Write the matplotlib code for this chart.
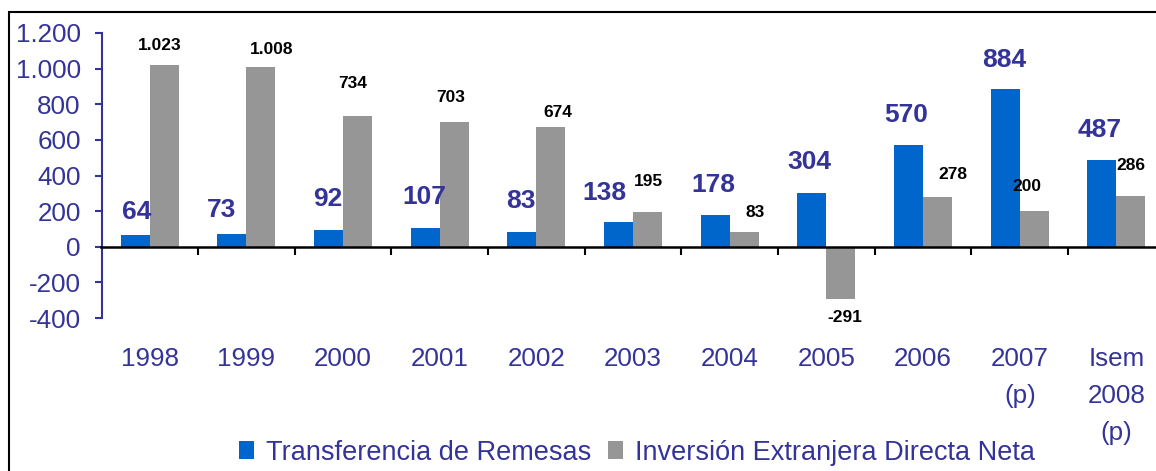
import matplotlib
matplotlib.use("Agg")
import matplotlib.pyplot as plt
import numpy as np
from matplotlib.patches import Rectangle

plt.rcParams['font.family'] = ['Liberation Sans', 'DejaVu Sans']

# datos (millones US$)
categorias = ['1998', '1999', '2000', '2001', '2002', '2003', '2004', '2005',
              '2006', '2007\n(p)', 'Isem\n2008\n(p)']
remesas = [64, 73, 92, 107, 83, 138, 178, 304, 570, 884, 487]
ied = [1023, 1008, 734, 703, 674, 195, 83, -291, 278, 200, 286]
etiq_remesas = ['64', '73', '92', '107', '83', '138', '178', '304', '570', '884', '487']
etiq_ied = ['1.023', '1.008', '734', '703', '674', '195', '83', '-291', '278', '200', '286']
yticks = [-400, -200, 0, 200, 400, 600, 800, 1000, 1200]
ytick_labels = ['-400', '-200', '0', '200', '400', '600', '800', '1.000', '1.200']
serie_nombres = ['Transferencia de Remesas', 'Inversión Extranjera Directa Neta']

# desplazamiento de etiquetas (px): dx, dy (linea base respecto al extremo de la barra)
off_rem = [(1, 16), (-10, 17), (-1, 24), (-1, 24), (-1, 24), (-14, 22), (-2, 23),
           (-3, 24), (-2, 23), (-1, 22), (-2, 23)]
off_ied = [(-5, 15), (11, 13), (-5, 28), (-4, 20), (7, 10), (1, 26), (11, 15),
           (4, -23), (15, 18), (-7, 20), (0, 26)]

AZUL = '#0066CC'
GRIS = '#969696'
TEXTO = '#333399'

fig = plt.figure(figsize=(11.56, 4.71), dpi=100)
W, H = 1156, 471
ax = fig.add_axes([101.5 / W, (H - 318) / H, 1063.3 / W, 285 / H])

x = np.arange(len(categorias))
w = 0.30
b1 = ax.bar(x - w / 2, remesas, w, color=AZUL, label=serie_nombres[0], zorder=2)
b2 = ax.bar(x + w / 2, ied, w, color=GRIS, label=serie_nombres[1], zorder=2)

px = 72 / 100  # px -> pt
for i, v in enumerate(remesas):
    dx, dy = off_rem[i]
    ax.annotate(etiq_remesas[i], (x[i] - w / 2, v), xytext=(dx * px, dy * px),
                textcoords='offset points', ha='center', va='baseline',
                fontsize=19, fontweight='bold', color=TEXTO)
for i, v in enumerate(ied):
    dx, dy = off_ied[i]
    ax.annotate(etiq_ied[i], (x[i] + w / 2, v), xytext=(dx * px, dy * px),
                textcoords='offset points', ha='center', va='baseline',
                fontsize=12.5, fontweight='bold', color='black')

ax.set_xlim(-0.5, len(categorias) - 0.5)
ax.set_ylim(-400, 1200)
ax.set_yticks(yticks)
ax.set_yticklabels(ytick_labels)
ax.tick_params(axis='y', colors=TEXTO, labelsize=18.7, length=5, width=1.5, pad=10)
ax.spines['left'].set_color(TEXTO)
ax.spines['left'].set_linewidth(1.5)
ax.spines['top'].set_visible(False)
ax.spines['right'].set_visible(False)
ax.spines['bottom'].set_position(('data', 0))
ax.spines['bottom'].set_linewidth(1.8)
ax.spines['bottom'].set_color('black')
ax.spines['bottom'].set_zorder(3)

ax.set_xticks(x)
ax.set_xticklabels(categorias, linespacing=1.68)
ax.set_xticks(np.arange(len(categorias) - 1) + 0.5, minor=True)
ax.tick_params(axis='x', which='major', length=0, labelsize=18.7, labelcolor=TEXTO, pad=72)
ax.tick_params(axis='x', which='minor', length=6, width=1.5, color='black', direction='out')
ax.set_facecolor('none')

leg = fig.legend(handles=[b1, b2], loc='center', bbox_to_anchor=(637 / W, 18.5 / H),
                 ncol=2, frameon=False, fontsize=19.5, handlelength=0.55,
                 handleheight=0.65, handletextpad=0.45, columnspacing=0.6,
                 borderpad=0, labelcolor=TEXTO)

# marco del grafico
fig.patches.append(Rectangle((9 / W, -0.1), 1.2, (H - 12) / H + 0.1, transform=fig.transFigure,
                             fill=False, edgecolor='black', linewidth=1.5, zorder=0))

fig.savefig('out.png', dpi=100)
